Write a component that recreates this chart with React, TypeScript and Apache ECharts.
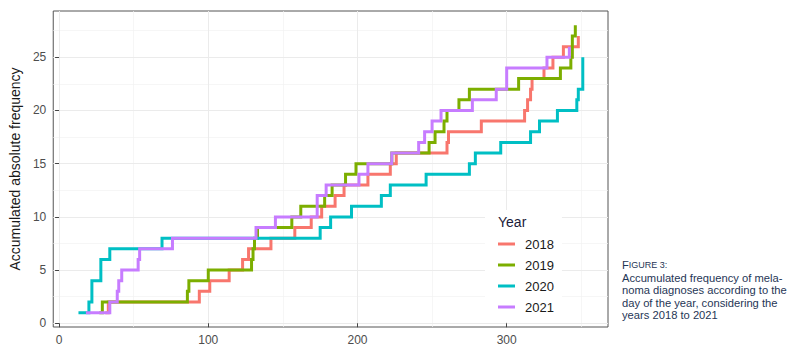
import React, { useEffect, useRef } from "react";
import * as echarts from "echarts";

const years = ["2018", "2019", "2020", "2021"];
const colors = ["#F8766D", "#7CAE00", "#00BFC4", "#C77CFF"];

const days2018 = [31, 33, 94, 101, 114, 123, 127, 142, 158, 169, 176, 185, 191, 207, 222, 226, 260, 261, 283, 312, 314, 316, 317, 325, 331, 338, 348];
const counts2018 = [1, 2, 3, 4, 5, 6, 7, 8, 9, 10, 11, 12, 13, 14, 15, 16, 17, 18, 19, 20, 21, 22, 23, 24, 25, 26, 27];

const days2019 = [27, 29, 86, 87, 100, 129, 130, 131, 133, 156, 162, 178, 183, 192, 199, 223, 248, 252, 258, 260, 268, 275, 308, 336, 343, 344, 346];
const counts2019 = [1, 2, 3, 4, 5, 6, 7, 8, 9, 10, 11, 12, 13, 14, 15, 16, 17, 18, 19, 20, 21, 22, 23, 24, 25, 27, 28];

const days2020 = [13, 20, 22, 28, 34, 69, 175, 182, 196, 216, 222, 246, 275, 279, 296, 316, 322, 334, 347, 348, 351];
const counts2020 = [1, 2, 4, 6, 7, 8, 9, 10, 11, 12, 13, 14, 15, 16, 17, 18, 19, 20, 21, 22, 25];

const days2021 = [18, 34, 39, 40, 42, 53, 54, 76, 132, 145, 173, 179, 201, 207, 223, 241, 245, 250, 256, 277, 293, 300, 327, 342];
const counts2021 = [1, 2, 3, 4, 5, 6, 7, 8, 9, 10, 12, 13, 14, 15, 16, 17, 18, 19, 20, 21, 22, 24, 25, 26];

const xTicks = [0, 100, 200, 300];
const xMinor = [50, 150, 250, 350];
const yTicks = [0, 5, 10, 15, 20, 25];
const yMinor = [2.5, 7.5, 12.5, 17.5, 22.5, 27.5];

const xMin = -3.9;
const xMax = 367.9;
const yMin = -0.35;
const yMax = 29.35;

const yTitle = "Accumulated absolute frequency";
const legendTitle = "Year";
const captionHead = "{a|F}{b|IGURE 3:}";
const captionLines = [
  "Accumulated frequency of mela-",
  "noma diagnoses according to the",
  "day of the year, considering the",
  "years 2018 to 2021",
];

const seriesDays = [days2018, days2019, days2020, days2021];
const seriesCounts = [counts2018, counts2019, counts2020, counts2021];

const FONT = "'Liberation Sans', Arial, Helvetica, sans-serif";
const CAP_FONT = "'Liberation Sans', Arial, sans-serif";
const CAP_COLOR = "#1f3656";

export default function App() {
  const ref = useRef<HTMLDivElement>(null);
  useEffect(() => {
    if (!ref.current) return;
    const chart = echarts.init(ref.current, null, { renderer: "svg" });
    const major = { color: "#ebebeb", width: 1, type: "solid" };
    const minor = { color: "#f2f2f2", width: 0.7, type: "solid" };
    const gridLines = [
      ...xMinor.map((v) => ({ xAxis: v, lineStyle: minor })),
      ...yMinor.map((v) => ({ yAxis: v, lineStyle: minor })),
      ...xTicks.map((v) => ({ xAxis: v, lineStyle: major })),
      ...yTicks.map((v) => ({ yAxis: v, lineStyle: major })),
    ];
    const lineSeries = years.map((y, i) => ({
      name: y,
      type: "line",
      step: "end",
      z: 3,
      showSymbol: false,
      symbol: "none",
      color: colors[i],
      lineStyle: { color: colors[i], width: 3, cap: "butt", join: "miter" },
      emphasis: { disabled: true },
      data: seriesDays[i].map((d, k) => [d, seriesCounts[i][k]]),
    }));
    const captionTexts = [captionHead, ...captionLines].map((t, k) => ({
      type: "text",
      z: 10,
      x: 622,
      y: 259.5 + k * 12.5,
      style: {
        text: t,
        fontSize: 11.2,
        lineHeight: 11.5,
        fill: CAP_COLOR,
        fontFamily: CAP_FONT,
        verticalAlign: "top",
        align: "left",
        rich: {
          a: { fontSize: 11.2, fill: CAP_COLOR, fontFamily: CAP_FONT, lineHeight: 11.5 },
          b: { fontSize: 9, fill: CAP_COLOR, fontFamily: CAP_FONT, lineHeight: 11.5 },
        },
      },
    }));
    chart.setOption({
      animation: false,
      backgroundColor: "#ffffff",
      textStyle: { fontFamily: FONT },
      grid: {
        left: 53,
        right: 193,
        top: 11,
        bottom: 35,
        show: true,
        borderColor: "#555555",
        borderWidth: 1,
        backgroundColor: "transparent",
        containLabel: false,
      },
      xAxis: {
        type: "value",
        min: xMin,
        max: xMax,
        axisLine: { show: false },
        splitLine: { show: false },
        axisTick: { show: true, customValues: xTicks, length: 4, lineStyle: { color: "#444444" } },
        axisLabel: { customValues: xTicks, color: "#4d4d4d", fontSize: 12, margin: 7, fontFamily: FONT },
      },
      yAxis: {
        type: "value",
        min: yMin,
        max: yMax,
        name: yTitle,
        nameLocation: "middle",
        nameGap: 30,
        nameTextStyle: { fontSize: 14, color: "#1a1a1a", fontFamily: FONT },
        axisLine: { show: false },
        splitLine: { show: false },
        axisTick: { show: true, customValues: yTicks, length: 4, lineStyle: { color: "#444444" } },
        axisLabel: { customValues: yTicks, color: "#4d4d4d", fontSize: 12, margin: 7, fontFamily: FONT },
      },
      legend: {
        orient: "vertical",
        left: 485,
        top: 210,
        padding: [27, 8, 8, 13],
        backgroundColor: "#ffffff",
        icon: "rect",
        itemWidth: 17,
        itemHeight: 3,
        itemGap: 7,
        selectedMode: false,
        textStyle: { fontSize: 13, color: "#1a1a1a", fontFamily: FONT, padding: [0, 0, 0, 5], lineHeight: 14 },
        data: years,
      },
      graphic: [
        {
          type: "text",
          z: 10,
          x: 498,
          y: 222,
          style: { text: legendTitle, fontSize: 14, fill: "#1b1b3a", fontFamily: FONT, verticalAlign: "middle", align: "left" },
        },
        ...captionTexts,
      ],
      series: [
        {
          type: "line",
          name: "grid",
          z: 0,
          data: [],
          silent: true,
          markLine: {
            silent: true,
            z: 0,
            symbol: ["none", "none"],
            label: { show: false },
            emphasis: { disabled: true },
            animation: false,
            data: gridLines,
          },
        },
        ...lineSeries,
      ],
    });
    return () => chart.dispose();
  }, []);
  return (
    <div
      ref={ref}
      style={{ position: "fixed", left: 0, top: 0, width: 801, height: 362, background: "#fff" }}
    />
  );
}
